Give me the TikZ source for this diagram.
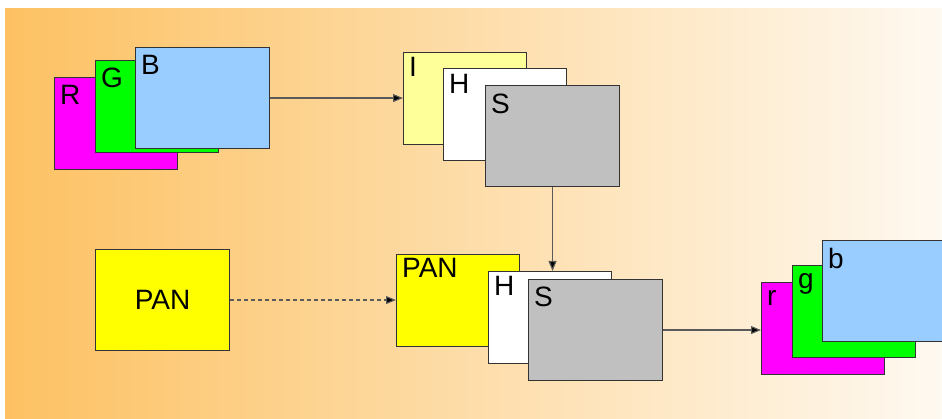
\documentclass[tikz,border=0pt]{standalone}
\usepackage{fontspec}
\setmainfont{Liberation Sans}
\usepackage{tikz}
\usetikzlibrary{arrows.meta}
\definecolor{bgleft}{RGB}{253,193,98}
\definecolor{bgright}{RGB}{254,249,241}
\definecolor{rmagenta}{HTML}{FF00FF}
\definecolor{rgreen}{HTML}{00FF00}
\definecolor{ryellow}{HTML}{FFFF00}
\definecolor{skyblue}{HTML}{99CCFF}
\definecolor{paleyellow}{HTML}{FFFF99}
\definecolor{sheetgray}{HTML}{C0C0C0}
\definecolor{edge}{HTML}{333333}
\definecolor{wire}{HTML}{5A5A5A}
\tikzset{
  sheet/.style={draw=edge, line width=1.1pt, anchor=north west, inner sep=0pt,
    minimum width=123pt, minimum height=92pt, font=\fontsize{28}{32}\selectfont},
  bigsheet/.style={sheet, minimum width=134pt, minimum height=101pt},
  tag/.style={anchor=north west, inner xsep=6pt, inner ysep=8pt, font=\fontsize{28}{32}\selectfont},
  link/.style={draw=wire, line width=1.1pt, -{Triangle[length=10pt,width=8pt,fill=black]}}
}

\begin{document}
\begin{tikzpicture}[x=1pt, y=-1pt]
  \useasboundingbox (0,0) rectangle (942,419);
  \clip (0,0) rectangle (942,419);
  \fill[left color=bgleft, right color=bgright] (5,9) rectangle (942,418);
  % RGB input
  \node[sheet, fill=rmagenta, label={[tag]north west:R}] (rgbR) at (54,77) {};
  \node[sheet, fill=rgreen, label={[tag]north west:G}] (rgbG) at (95,60) {};
  \node[bigsheet, fill=skyblue, label={[tag]north west:B}] (rgbB) at (135,47) {};
  % IHS
  \node[sheet, fill=paleyellow, label={[tag, inner ysep=5pt]north west:I}] (ihsI) at (403,52) {};
  \node[sheet, fill=white, label={[tag, inner ysep=6pt]north west:H}] (ihsH) at (443,68) {};
  \node[bigsheet, fill=sheetgray, label={[tag, inner ysep=9pt]north west:S}] (ihsS) at (485,85) {};
  % PAN and fusion
  \node[bigsheet, fill=ryellow] (panIn) at (95,249) {PAN};
  \node[sheet, fill=ryellow, label={[tag, inner ysep=4pt]north west:PAN}] (fusPan) at (396,254) {};
  \node[sheet, fill=white, label={[tag, inner ysep=5pt]north west:H}] (fusH) at (488,271) {};
  \node[bigsheet, fill=sheetgray, label={[tag]north west:S}] (fusS) at (528,279) {};
  % rgb output
  \node[sheet, fill=rmagenta, label={[tag]north west:r}] (outR) at (761,282) {};
  \node[sheet, fill=rgreen, label={[tag]north west:g}] (outG) at (792,265) {};
  \node[bigsheet, fill=skyblue, label={[tag]north west:b}] (outB) at (822,240) {};
  \draw[link] (rgbB.east) -- (rgbB.east -| ihsI.west);
  \draw[link] (ihsS.south) -- (ihsS.south |- fusH.north);
  \draw[link, dashed, dash pattern=on 4pt off 3pt] (panIn.east) -- (panIn.east -| fusPan.west);
  \draw[link] (fusS.east) -- (fusS.east -| outR.west);
\end{tikzpicture}
\end{document}
